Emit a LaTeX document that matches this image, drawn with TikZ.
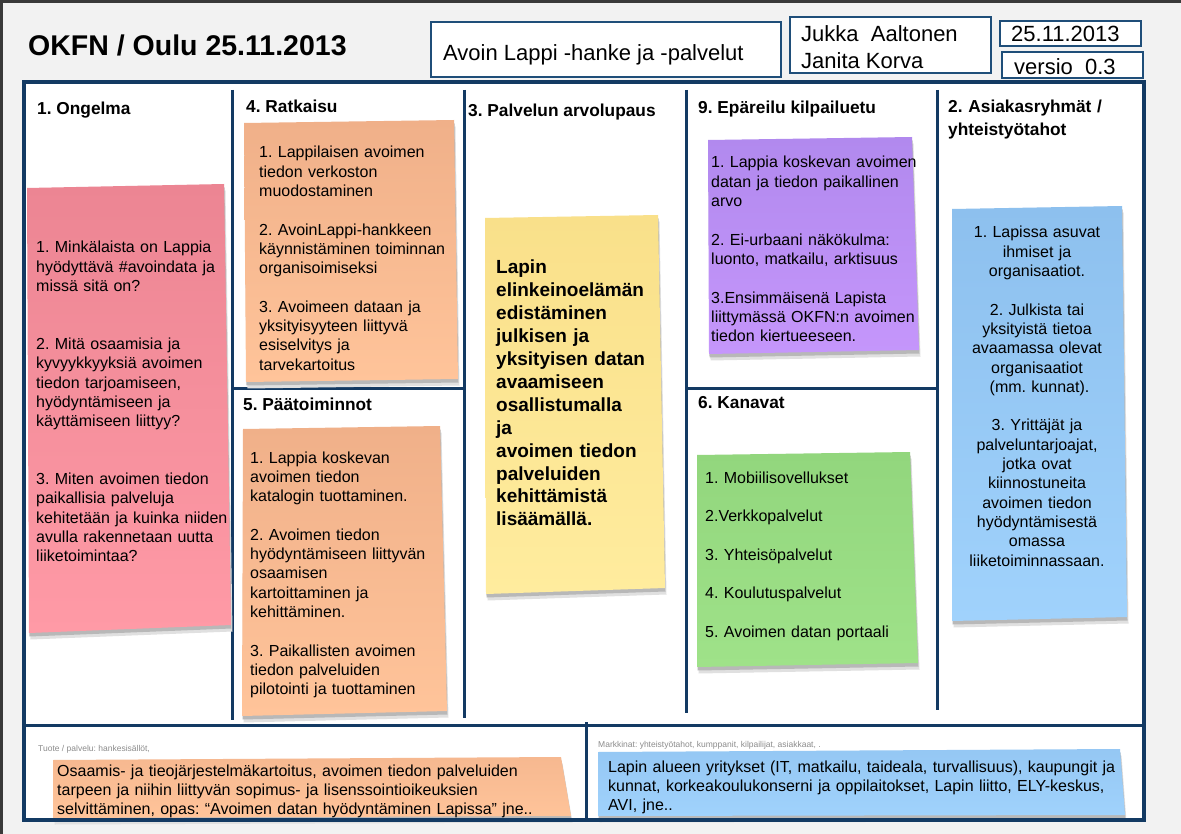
\documentclass[tikz,border=0pt]{standalone}
\usepackage{fontspec}
\setmainfont{Liberation Sans}
\definecolor{pagebg}{HTML}{F2F2F2}
\definecolor{edgedark}{HTML}{3A3A3A}
\definecolor{navy}{HTML}{133A63}
\definecolor{boxline}{HTML}{1F4E79}
\definecolor{pinkTop}{HTML}{EC8593}
\definecolor{pinkBody}{HTML}{FF9AA6}
\definecolor{orTop}{HTML}{F0B089}
\definecolor{orBody}{HTML}{FFC49A}
\definecolor{yeTop}{HTML}{F9E08A}
\definecolor{yeBody}{HTML}{FFEC9E}
\definecolor{puTop}{HTML}{B189EE}
\definecolor{puBody}{HTML}{C596FB}
\definecolor{grTop}{HTML}{92D67D}
\definecolor{grBody}{HTML}{9FE289}
\definecolor{blTop}{HTML}{8DC0EE}
\definecolor{blBody}{HTML}{A0D2FC}
\definecolor{smallgray}{HTML}{8C8C8C}
\newcommand{\stickynote}[6]{%
  \fill[black!12, shift={(1.5,6.5)}] #3 -- #4 -- #5 -- #6 -- cycle;
  \fill[black!28, shift={(0.5,3.5)}] #3 -- #4 -- #5 -- #6 -- cycle;
  \shade[top color=#1, middle color=#2, bottom color=#2] #3 -- #4 -- #5 -- #6 -- cycle;
}
\tikzset{
  hdr/.style={anchor=base west, inner sep=0pt, font={\fontsize{17.3}{20}\selectfont\bfseries}},
  bodytext/.style={anchor=base west, inner sep=0pt, align=left, text width=#1,
    font={\fontsize{16}{19.3}\selectfont}},
  toptext/.style={anchor=base west, inner sep=0pt, font={\fontsize{22}{27}\selectfont}},
  topbox/.style={draw=boxline, line width=1.4pt, fill=white},
  smalllabel/.style={anchor=base west, inner sep=0pt, text=smallgray, font={\fontsize{8.5}{10}\selectfont}},
  divider/.style={draw=navy, line width=3pt},
}
\begin{document}
\frenchspacing
\begin{tikzpicture}[x=1pt,y=-1pt]
\useasboundingbox (0,0) rectangle (1181,834);
% page background
\fill[pagebg] (0,0) rectangle (1181,834);
\fill[edgedark] (0,0) rectangle (1181,3);
\fill[edgedark] (0,0) rectangle (3,834);

% title and header boxes
\node[anchor=base west, inner sep=0pt, font={\fontsize{28.5}{32}\selectfont\bfseries}] (title) at (28,56) {OKFN / Oulu 25.11.2013};
\draw[topbox] (431,22) rectangle (781,77);
\node[toptext] (project) at (443,61) {Avoin Lappi -hanke ja -palvelut};
\draw[topbox] (790,17) rectangle (991,73);
\node[toptext] (author1) at (801,42) {Jukka\ \ Aaltonen};
\node[toptext] (author2) at (801,69) {Janita Korva};
\draw[topbox] (1000,21) rectangle (1141,46);
\node[toptext] (date) at (1011,42) {25.11.2013};
\draw[topbox] (1002,52) rectangle (1143,78);
\node[toptext] (version) at (1014,75) {versio\ \ 0.3};

% canvas area
\fill[white] (24,82) rectangle (1144,820);
\draw[divider] (232,90) -- (232,720);
\draw[divider] (464,90) -- (464,718);
\draw[divider] (686,90) -- (686,713);
\draw[divider] (937,90) -- (937,710);
\draw[divider] (232,388) -- (464,388);
\draw[divider] (686,388) -- (937,388);
\draw[divider] (586,722) -- (586,820);

% section headers
\node[hdr] (h1) at (37,115) {1. Ongelma};
\node[hdr] (h4) at (246,113) {4. Ratkaisu};
\node[hdr] (h3) at (468,117) {3. Palvelun arvolupaus};
\node[hdr] (h9) at (698,114) {9. Epäreilu kilpailuetu};
\node[hdr, align=left, text width=190] (h2) at (948,113) {2. Asiakasryhmät /\\[3pt]yhteistyötahot};
\node[hdr] (h5) at (243,410) {5. Päätoiminnot};
\node[hdr] (h6) at (698,408) {6. Kanavat};

% sticky notes
\stickynote{pinkTop}{pinkBody}{(27,188)}{(224,184)}{(231,625)}{(29,633)}
\stickynote{orTop}{orBody}{(244,123)}{(454,120)}{(458,379)}{(246,382)}
\stickynote{orTop}{orBody}{(243,429)}{(440,426)}{(447,711)}{(242,716)}
\stickynote{yeTop}{yeBody}{(485,218)}{(658,215)}{(665,588)}{(486,594)}
\stickynote{puTop}{puBody}{(708,140)}{(912,137)}{(919,350)}{(709,354)}
\stickynote{grTop}{grBody}{(697,455)}{(910,452)}{(918,663)}{(697,667)}
\stickynote{blTop}{blBody}{(952,209)}{(1122,206)}{(1127,617)}{(952,621)}
\stickynote{orTop!60!orBody}{orBody}{(53,760)}{(561,757)}{(571,816)}{(53,818)}
\stickynote{blTop!60!blBody}{blBody}{(598,752)}{(1120,749)}{(1125,815)}{(598,816)}

% sticky texts
\node[bodytext=230] (problem) at (36,253) {1. Minkälaista on Lappia\\hyödyttävä \#avoindata ja\\missä sitä on?\\[38.6pt]2. Mitä osaamisia ja\\kyvyykkyyksiä avoimen\\tiedon tarjoamiseen,\\hyödyntämiseen ja\\käyttämiseen liittyy?\\[38.6pt]3. Miten avoimen tiedon\\paikallisia palveluja\\kehitetään ja kuinka niiden\\avulla rakennetaan uutta\\liiketoimintaa?};
\node[bodytext=230] (solution) at (259,158) {1. Lappilaisen avoimen\\tiedon verkoston\\muodostaminen\\[19.3pt]2. AvoinLappi-hankkeen\\käynnistäminen toiminnan\\organisoimiseksi\\[19.3pt]3. Avoimeen dataan ja\\yksityisyyteen liittyvä\\esiselvitys ja\\tarvekartoitus};
\node[bodytext=230] (activities) at (250,463) {1. Lappia koskevan\\avoimen tiedon\\katalogin tuottaminen.\\[19.3pt]2. Avoimen tiedon\\hyödyntämiseen liittyvän\\osaamisen\\kartoittaminen ja\\kehittäminen.\\[19.3pt]3. Paikallisten avoimen\\tiedon palveluiden\\pilotointi ja tuottaminen};
\node[anchor=base west, inner sep=0pt, align=left, text width=200, font={\fontsize{19}{22.9}\selectfont\bfseries}] (value) at (496,274) {Lapin\\elinkeinoelämän\\edistäminen\\julkisen ja\\yksityisen datan\\avaamiseen\\osallistumalla\\ja\\avoimen tiedon\\palveluiden\\kehittämistä\\lisäämällä.};
\node[bodytext=240] (advantage) at (711,168) {1. Lappia koskevan avoimen\\datan ja tiedon paikallinen\\arvo\\[19.3pt]2. Ei-urbaani näkökulma:\\luonto, matkailu, arktisuus\\[19.3pt]3.Ensimmäisenä Lapista\\liittymässä OKFN:n avoimen\\tiedon kiertueeseen.};
\node[bodytext=230] (channels) at (705,483) {1. Mobiilisovellukset\\[19.3pt]2.Verkkopalvelut\\[19.3pt]3. Yhteisöpalvelut\\[19.3pt]4. Koulutuspalvelut\\[19.3pt]5. Avoimen datan portaali};
\node[anchor=base, inner sep=0pt, align=center, text width=180, font={\fontsize{16}{19.3}\selectfont}] (customers) at (1037,238) {1. Lapissa asuvat\\ihmiset ja\\organisaatiot.\\[19.3pt]2. Julkista tai\\yksityistä tietoa\\avaamassa olevat\\organisaatiot\\\hspace*{5pt}(mm. kunnat).\\[19.3pt]3. Yrittäjät ja\\palveluntarjoajat,\\jotka ovat\\kiinnostuneita\\avoimen tiedon\\hyödyntämisestä\\omassa\\liiketoiminnassaan.};

% bottom area
\node[smalllabel] (productlabel) at (38,751) {Tuote / palvelu: hankesisällöt,};
\node[smalllabel] (marketlabel) at (598,747) {Markkinat: yhteistyötahot, kumppanit, kilpailijat, asiakkaat, .};
\node[anchor=base west, inner sep=0pt, align=left, text width=600, font={\fontsize{16}{19.2}\selectfont}] (product) at (57,776) {Osaamis- ja tieojärjestelmäkartoitus, avoimen tiedon palveluiden\\tarpeen ja niihin liittyvän sopimus- ja lisenssointioikeuksien\\selvittäminen, opas: “Avoimen datan hyödyntäminen Lapissa” jne..};
\node[anchor=base west, inner sep=0pt, align=left, text width=600, font={\fontsize{16}{19.2}\selectfont}] (market) at (608,772) {Lapin alueen yritykset (IT, matkailu, taideala, turvallisuus), kaupungit ja\\kunnat, korkeakoulukonserni ja oppilaitokset, Lapin liitto, ELY-keskus,\\AVI, jne..};

% frame on top
\draw[divider] (24,725) -- (1144,725);
\draw[draw=navy, line width=4.5pt] (24,82) rectangle (1144,820);
\end{tikzpicture}
\end{document}
